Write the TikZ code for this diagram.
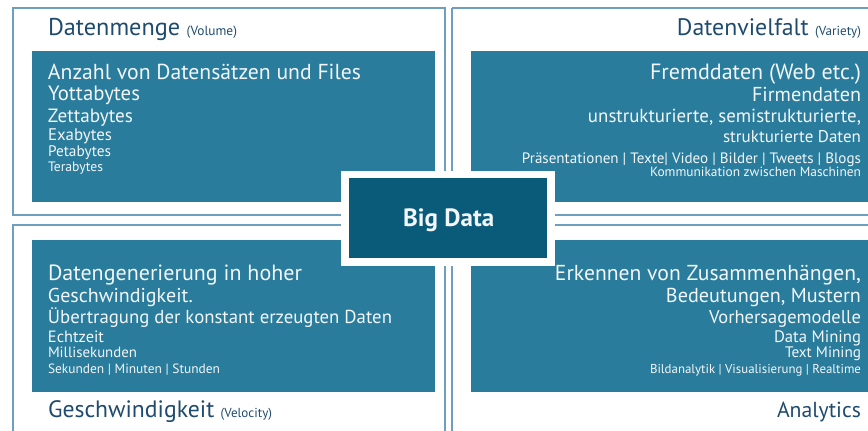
\documentclass[tikz,border=0pt]{standalone}
\usepackage{fontspec}
\usepackage{graphicx}
\setmainfont{PT Sans}
\definecolor{frameC}{HTML}{6E9FBE}
\definecolor{boxC}{HTML}{2A7C9C}
\definecolor{bigC}{HTML}{0A5A7A}
\definecolor{titleC}{HTML}{1E4B6D}
\definecolor{txtC}{HTML}{F2F6F8}
\newcommand{\fitw}[2]{\resizebox{#1pt}{!}{#2}}
\tikzset{
  fr/.style={draw=frameC, line width=1.6pt},
  ibox/.style={fill=boxC, draw=none},
  tw/.style={inner sep=0pt, outer sep=0pt, text=txtC, anchor=base west, font=\fontsize{20}{20}\selectfont},
  te/.style={inner sep=0pt, outer sep=0pt, text=txtC, anchor=base east, font=\fontsize{20}{20}\selectfont},
  ttl/.style={inner sep=0pt, outer sep=0pt, text=titleC, font=\fontsize{20}{20}\selectfont},
}
\begin{document}
\begin{tikzpicture}[x=1pt,y=-1pt]
\useasboundingbox (0,0) rectangle (868,431);
% outer frames
\draw[fr] (13,8) rectangle (445,215);
\draw[fr] (452,8) -- (880,8) (452,8) -- (452,215) -- (880,215);
\draw[fr] (880,225) -- (452,225) -- (452,440);
\draw[fr] (13,440) -- (13,225) -- (445,225) -- (445,440);
% inner boxes
\fill[ibox] (32,51) rectangle (435,202);
\fill[ibox] (471,51) rectangle (868,202);
\fill[ibox] (32,240) rectangle (435,392);
\fill[ibox] (471,240) rectangle (868,392);
% centre
\fill[white] (341,171) rectangle (555,266);
\fill[bigC] (349,178) rectangle (547,258);
\node[inner sep=0pt, text=txtC, anchor=base west, font=\bfseries] (big) at (403,226) {\fitw{91}{Big Data}};
% titles
\node[ttl, anchor=base west] (t1) at (48,35) {\fitw{189}{Datenmenge {\fontsize{11}{11}\selectfont(Volume)}}};
\node[ttl, anchor=base east] (t2) at (861,35) {\fitw{184}{Datenvielfalt {\fontsize{11}{11}\selectfont(Variety)}}};
\node[ttl, anchor=base west] (t3) at (48,417) {\fitw{224}{Geschwindigkeit {\fontsize{11}{11}\selectfont(Velocity)}}};
\node[ttl, anchor=base east] (t4) at (861,417) {\fitw{84}{Analytics}};
% TL
\node[tw] (a1) at (48,79) {\fitw{313}{Anzahl von Datensätzen und Files}};
\node[tw] (a2) at (48,100) {\fitw{92}{Yottabytes}};
\node[tw] (a3) at (48,122) {\fitw{85}{Zettabytes}};
\node[tw] (a4) at (48,140) {\fitw{64}{Exabytes}};
\node[tw] (a5) at (48,156) {\fitw{63}{Petabytes}};
\node[tw] (a6) at (48,171) {\fitw{55}{Terabytes}};
% TR
\node[te] (b1) at (861,79) {\fitw{211}{Fremddaten (Web etc.)}};
\node[te] (b2) at (861,101) {\fitw{109}{Firmendaten}};
\node[te] (b3) at (861,122) {\fitw{273}{unstrukturierte, semistrukturierte,}};
\node[te] (b4) at (861,142) {\fitw{138}{strukturierte Daten}};
\node[te] (b5) at (861,163) {\fitw{339}{Präsentationen | Texte| Video | Bilder | Tweets | Blogs}};
\node[te] (b6) at (861,176) {\fitw{211}{Kommunikation zwischen Maschinen}};
% BL
\node[tw] (c1) at (48,280) {\fitw{254}{Datengenerierung in hoher}};
\node[tw] (c2) at (48,302) {\fitw{145}{Geschwindigkeit.}};
\node[tw] (c3) at (48,323) {\fitw{344}{Übertragung der konstant erzeugten Daten}};
\node[tw] (c4) at (48,342) {\fitw{56}{Echtzeit}};
\node[tw] (c5) at (48,357) {\fitw{89}{Millisekunden}};
\node[tw] (c6) at (48,373) {\fitw{172}{Sekunden | Minuten | Stunden}};
% BR
\node[te] (d1) at (861,280) {\fitw{306}{Erkennen von Zusammenhängen,}};
\node[te] (d2) at (861,302) {\fitw{195}{Bedeutungen, Mustern}};
\node[te] (d3) at (861,323) {\fitw{152}{Vorhersagemodelle}};
\node[te] (d4) at (861,342) {\fitw{87}{Data Mining}};
\node[te] (d5) at (861,357) {\fitw{76}{Text Mining}};
\node[te] (d6) at (861,373) {\fitw{211}{Bildanalytik | Visualisierung | Realtime}};
\end{tikzpicture}
\end{document}
